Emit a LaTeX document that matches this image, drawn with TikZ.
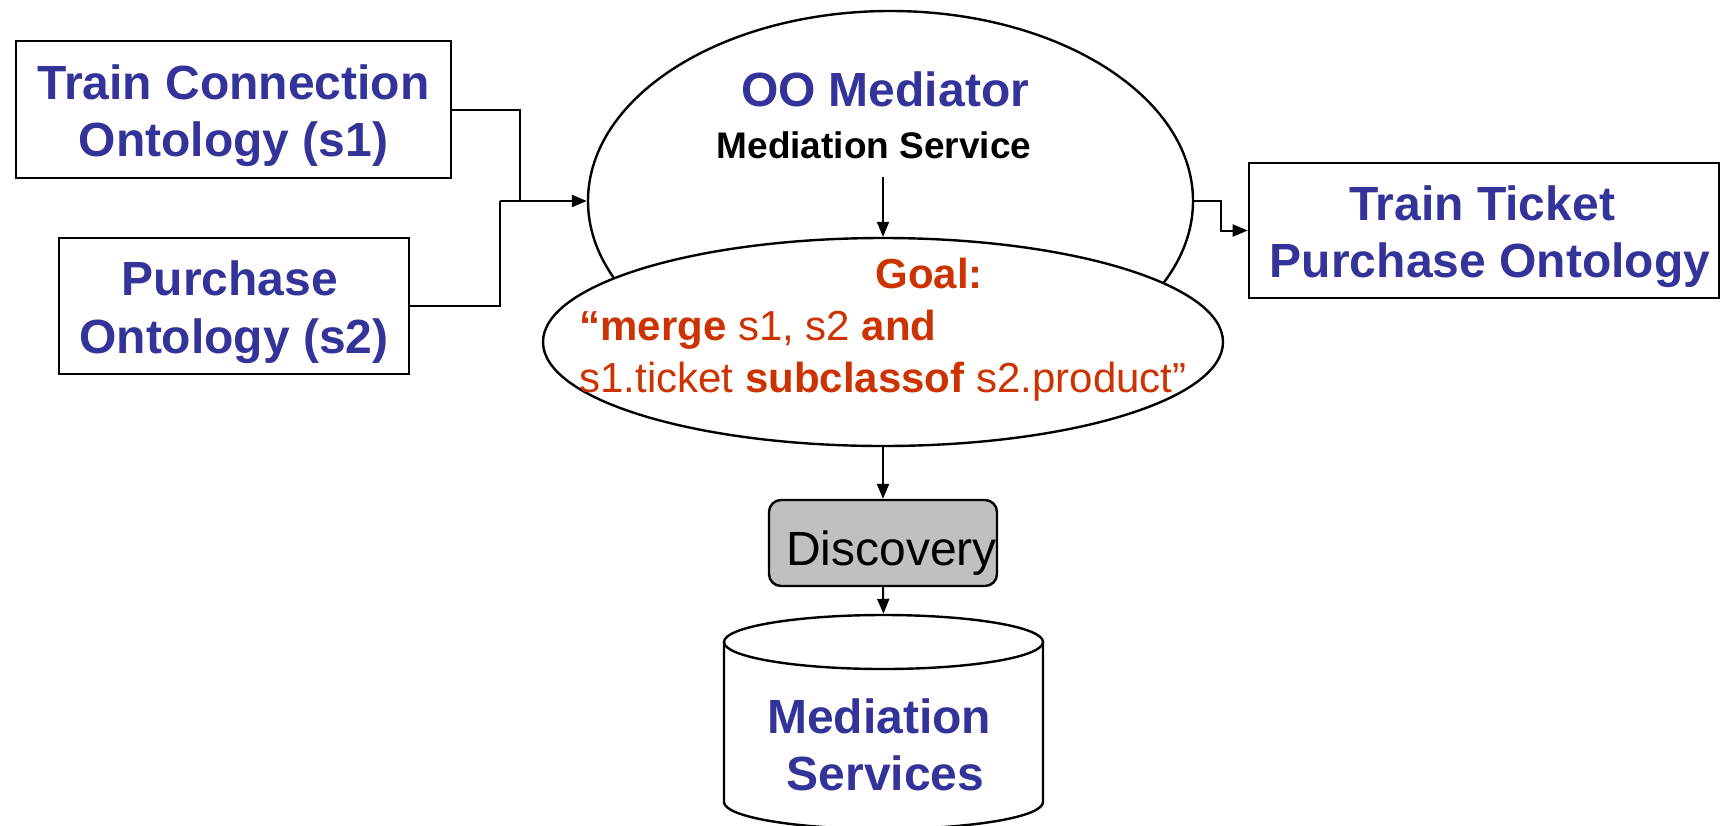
\documentclass[tikz,border=0pt]{standalone}
\usepackage{fontspec}
\setmainfont{Liberation Sans}
\usetikzlibrary{shapes.geometric,arrows.meta}
\definecolor{ontoblue}{HTML}{333399}
\definecolor{goalred}{HTML}{CC3300}
\definecolor{discgray}{HTML}{C0C0C0}
\begin{document}
\begin{tikzpicture}[x=0.5pt,y=-0.5pt,
  ontobox/.style={draw, line width=1.3pt, rectangle, inner sep=0pt},
  oval/.style={draw, line width=1.2pt, ellipse, inner sep=0pt, fill=white},
  bluetxt/.style={font=\fontsize{24}{28}\selectfont\bfseries, text=ontoblue, anchor=base, inner sep=0pt},
  goaltxt/.style={font=\fontsize{21}{25}\selectfont, text=goalred, anchor=base west, inner sep=0pt},
  wire/.style={line width=1pt},
  link/.style={line width=1pt, -{Triangle[length=7.5pt,width=6pt]}}]
\useasboundingbox (0,0) rectangle (1722,825);

% source and target ontologies
\node[ontobox, minimum width=217.5pt, minimum height=68.5pt] (b1) at (233.5,109.5) {};
\node[bluetxt] (b1a) at (233.5,99) {Train Connection};
\node[bluetxt] (b1b) at (233.5,156) {Ontology (s1)};

\node[ontobox, minimum width=175pt, minimum height=68pt] (b2) at (234,306) {};
\node[bluetxt] (b2a) at (230,295) {Purchase};
\node[bluetxt] (b2b) at (234,353) {Ontology (s2)};

\node[ontobox, minimum width=235pt, minimum height=67.5pt] (tt) at (1484,230.5) {};
\node[bluetxt] (tta) at (1482,220) {Train Ticket};
\node[bluetxt] (ttb) at (1490,277) {Purchase Ontology};

% mediator and its goal
\node[oval, minimum width=302.5pt, minimum height=190pt] (med) at (890.5,201) {};
\node[bluetxt] (medt) at (885,106) {OO Mediator};
\node[font=\fontsize{18.5}{22}\selectfont\bfseries, anchor=base, inner sep=0pt] (mst) at (874,158) {Mediation Service};

\node[oval, minimum width=340pt, minimum height=104pt] (goal) at (883,342) {};
\node[goaltxt, font=\fontsize{21}{25}\selectfont\bfseries] (g0) at (875,288) {Goal:};
\node[goaltxt] (g1) at (579,340) {\textbf{“merge} s1, s2 \textbf{and}};
\node[goaltxt] (g2) at (579,392) {s1.ticket \textbf{subclassof} s2.product”};

% discovery and repository
\node[draw, line width=1.2pt, rounded corners=6pt, fill=discgray, minimum width=114pt, minimum height=43pt, inner sep=0pt] (disc) at (883,543) {};
\node[font=\fontsize{24}{28}\selectfont, anchor=base, inner sep=0pt] (disct) at (891.5,565) {Discovery};

\draw[line width=1.2pt, fill=white] (724,642) -- (724,802)
  arc[start angle=180, end angle=360, x radius=79.75pt, y radius=13.5pt] -- (1043,642);
\node[draw, line width=1.2pt, ellipse, inner sep=0pt, minimum width=159.5pt, minimum height=27pt] (cyl) at (883.5,642) {};
\node[bluetxt] (cyla) at (879,733) {Mediation};
\node[bluetxt] (cylb) at (885.5,790) {Services};

% connectors
\coordinate (j1) at (520,201);
\coordinate (j2) at (500,201);
\coordinate (j3) at (1221,201);
\coordinate (ms0) at (883,177);
\draw[wire] (b1.east) -| (j1);
\draw[wire] (b2.east) -| (j2);
\draw[link] (j2) -- (med.west);
\draw[link] (med.east) -- (j3) |- (tt.west);
\draw[link] (ms0) -- (goal.north);
\draw[link] (goal.south) -- (disc.north);
\draw[link] (disc.south) -- (cyl.north);
\end{tikzpicture}
\end{document}
